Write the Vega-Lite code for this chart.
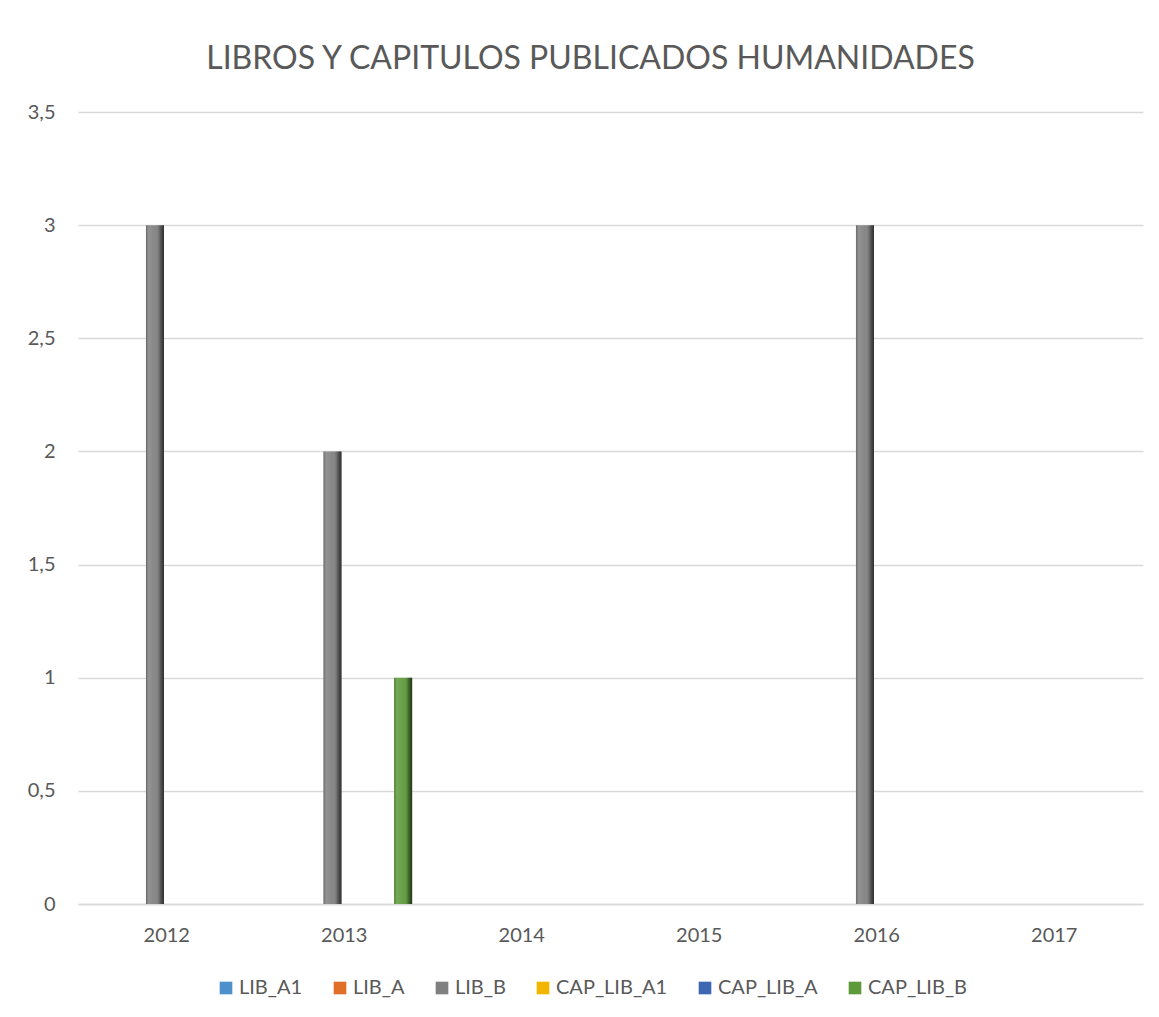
{
  "$schema": "https://vega.github.io/schema/vega-lite/v6.json",
  "autosize": {"type": "none"},
  "padding": {"left": 78, "top": 112, "right": 16, "bottom": 113},
  "width": 1065,
  "height": 792,
  "background": "white",
  "title": {
    "text": "LIBROS Y CAPITULOS PUBLICADOS HUMANIDADES",
    "font": "Lato",
    "fontSize": 32,
    "fontWeight": "normal",
    "color": "#595959",
    "anchor": "middle",
    "dx": -20,
    "offset": 26
  },
  "config": {
    "view": {"stroke": null},
    "font": "Lato"
  },
  "data": {
    "values": [
      {"year": "2012", "series": "LIB_A1", "value": 0},
      {"year": "2012", "series": "LIB_A", "value": 0},
      {"year": "2012", "series": "LIB_B", "value": 3},
      {"year": "2012", "series": "CAP_LIB_A1", "value": 0},
      {"year": "2012", "series": "CAP_LIB_A", "value": 0},
      {"year": "2012", "series": "CAP_LIB_B", "value": 0},
      {"year": "2013", "series": "LIB_A1", "value": 0},
      {"year": "2013", "series": "LIB_A", "value": 0},
      {"year": "2013", "series": "LIB_B", "value": 2},
      {"year": "2013", "series": "CAP_LIB_A1", "value": 0},
      {"year": "2013", "series": "CAP_LIB_A", "value": 0},
      {"year": "2013", "series": "CAP_LIB_B", "value": 1},
      {"year": "2014", "series": "LIB_A1", "value": 0},
      {"year": "2014", "series": "LIB_A", "value": 0},
      {"year": "2014", "series": "LIB_B", "value": 0},
      {"year": "2014", "series": "CAP_LIB_A1", "value": 0},
      {"year": "2014", "series": "CAP_LIB_A", "value": 0},
      {"year": "2014", "series": "CAP_LIB_B", "value": 0},
      {"year": "2015", "series": "LIB_A1", "value": 0},
      {"year": "2015", "series": "LIB_A", "value": 0},
      {"year": "2015", "series": "LIB_B", "value": 0},
      {"year": "2015", "series": "CAP_LIB_A1", "value": 0},
      {"year": "2015", "series": "CAP_LIB_A", "value": 0},
      {"year": "2015", "series": "CAP_LIB_B", "value": 0},
      {"year": "2016", "series": "LIB_A1", "value": 0},
      {"year": "2016", "series": "LIB_A", "value": 0},
      {"year": "2016", "series": "LIB_B", "value": 3},
      {"year": "2016", "series": "CAP_LIB_A1", "value": 0},
      {"year": "2016", "series": "CAP_LIB_A", "value": 0},
      {"year": "2016", "series": "CAP_LIB_B", "value": 0},
      {"year": "2017", "series": "LIB_A1", "value": 0},
      {"year": "2017", "series": "LIB_A", "value": 0},
      {"year": "2017", "series": "LIB_B", "value": 0},
      {"year": "2017", "series": "CAP_LIB_A1", "value": 0},
      {"year": "2017", "series": "CAP_LIB_A", "value": 0},
      {"year": "2017", "series": "CAP_LIB_B", "value": 0}
    ]
  },
  "encoding": {
    "x": {
      "field": "year",
      "type": "nominal",
      "title": null,
      "scale": {"paddingInner": 0.204, "paddingOuter": 0.102},
      "axis": {
        "labelAngle": 0,
        "labelFont": "Lato",
        "labelFontSize": 20,
        "labelColor": "#595959",
        "labelPadding": 21,
        "ticks": false,
        "domainColor": "#d9d9d9",
        "domainWidth": 1.5,
        "grid": false
      }
    },
    "xOffset": {
      "field": "series",
      "type": "nominal",
      "sort": ["LIB_A1", "LIB_A", "LIB_B", "CAP_LIB_A1", "CAP_LIB_A", "CAP_LIB_B"],
      "scale": {"paddingInner": 0.234, "paddingOuter": 0.117}
    },
    "y": {
      "field": "value",
      "type": "quantitative",
      "title": null,
      "scale": {"domain": [0, 3.5]},
      "axis": {
        "values": [0, 0.5, 1, 1.5, 2, 2.5, 3, 3.5],
        "labelExpr": "replace(format(datum.value, '~g'), '.', ',')",
        "labelFont": "Lato",
        "labelFontSize": 20,
        "labelColor": "#595959",
        "labelPadding": 23,
        "ticks": false,
        "domain": false,
        "gridColor": "#d9d9d9",
        "gridWidth": 1.5
      }
    }
  },
  "layer": [
    {
      "mark": {"type": "bar"},
      "encoding": {
        "color": {
          "field": "series",
          "type": "nominal",
          "sort": ["LIB_A1", "LIB_A", "LIB_B", "CAP_LIB_A1", "CAP_LIB_A", "CAP_LIB_B"],
          "scale": {
            "domain": ["LIB_A1", "LIB_A", "LIB_B", "CAP_LIB_A1", "CAP_LIB_A", "CAP_LIB_B"],
            "range": ["#4F8FCB", "#E07028", "#808080", "#F2B600", "#3D66B3", "#5E9A3A"]
          },
          "legend": {
            "title": null,
            "orient": "none",
            "legendX": 138,
            "legendY": 866,
            "direction": "horizontal",
            "columns": 6,
            "symbolType": "square",
            "symbolSize": 160,
            "symbolStrokeWidth": 0,
            "labelFont": "Lato",
            "labelFontSize": 20,
            "labelColor": "#595959",
            "labelOffset": 3,
            "columnPadding": 27
          }
        }
      }
    },
    {
      "mark": {
        "type": "bar",
        "color": {
          "gradient": "linear",
          "x1": 0, "x2": 1, "y1": 0, "y2": 0,
          "stops": [
            {"offset": 0, "color": "rgba(0,0,0,0.2)"},
            {"offset": 0.15, "color": "rgba(255,255,255,0.15)"},
            {"offset": 0.5, "color": "rgba(255,255,255,0.05)"},
            {"offset": 0.8, "color": "rgba(0,0,0,0.3)"},
            {"offset": 1, "color": "rgba(0,0,0,0.65)"}
          ]
        }
      },
      "encoding": {}
    }
  ]
}
